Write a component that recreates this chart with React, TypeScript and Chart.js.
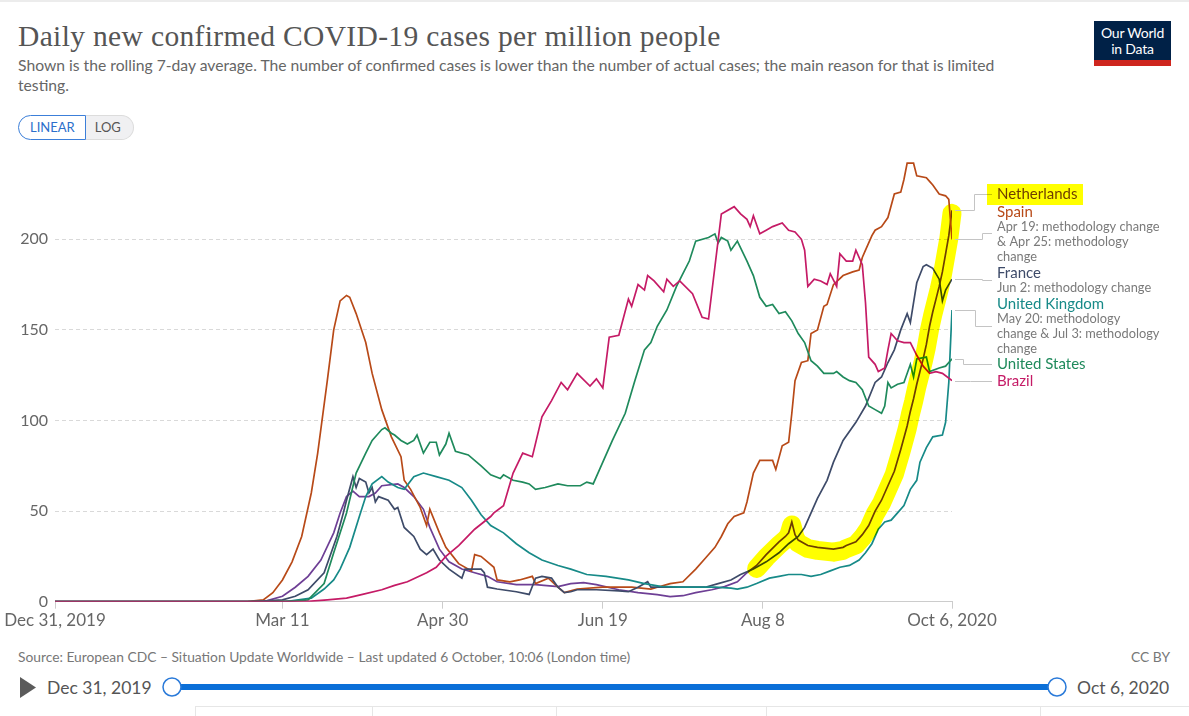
import React, { useEffect, useRef } from "react";
import { Chart, registerables } from "chart.js";

Chart.register(...registerables);

type Pt = [number, number];

// x values are day numbers: day 0 = Dec 31, 2019, day 280 = Oct 6, 2020
const dayTicks = [0, 71, 121, 171, 221, 280];
const dayTickLabels = ["Dec 31, 2019", "Mar 11", "Apr 30", "Jun 19", "Aug 8", "Oct 6, 2020"];
const valueTicks = [0, 50, 100, 150, 200];

// Daily new confirmed cases per million, rolling 7-day average
const netherlands: Pt[] = [
  [0, 0], [62, 0], [66, 0.5], [71, 3], [75, 8], [79, 14], [83, 23], [87, 38], [89, 49], [91, 58],
  [93, 61], [95, 58], [98, 58], [100, 60], [102, 64], [107, 65], [109, 63], [112, 58], [115, 51],
  [117, 41], [120, 29], [123, 22], [127, 18], [131, 16], [135, 14], [138, 11], [144, 9.4], [150, 9.4],
  [157, 8.3], [161, 10], [165, 10.5], [169, 9.4], [176, 6.6], [182, 5], [188, 3.9], [192, 2.8],
  [196, 3.3], [200, 5], [205, 6.6], [209, 8.3], [213, 11], [216, 16], [219, 20], [222, 26], [226, 33],
  [228, 36], [229, 38], [230, 44], [231, 37], [232, 34], [235, 31], [238, 30], [243, 29], [246, 30],
  [247, 31], [250, 33], [252, 37], [254, 42], [256, 50], [258, 56], [260, 64], [262, 72], [264, 84],
  [266, 97], [267, 105], [268, 112], [269, 120], [270, 127], [271, 134], [272, 142], [273, 152],
  [274, 160], [275, 167], [276, 174], [277, 182], [278, 192], [279, 202], [280, 216],
];

const spain: Pt[] = [
  [0, 0], [60, 0], [65, 1], [68, 5], [71, 12], [74, 22], [77, 36], [80, 60], [82, 82], [85, 122],
  [87, 150], [89, 166], [91, 169], [92, 168], [94, 159], [97, 143], [99, 126], [102, 106], [105, 91],
  [108, 80], [109, 67], [111, 62], [114, 52], [116, 42], [117, 51], [120, 38], [122, 30], [126, 21],
  [130, 17], [131, 26], [133, 25], [135, 22], [137, 19], [138, 12], [142, 11], [145, 12], [149, 14],
  [150, 10], [154, 13], [157, 8], [159, 5], [163, 7], [171, 8], [180, 8], [186, 7], [188, 8], [192, 10],
  [196, 11], [200, 18], [203, 24], [206, 30], [208, 36], [210, 43], [212, 47], [215, 49], [216, 55],
  [218, 71], [220, 78], [224, 78], [225, 73], [227, 86], [229, 88], [230, 104], [231, 122], [233, 132],
  [235, 133], [236, 148], [238, 150], [240, 163], [241, 164], [243, 175], [246, 180], [249, 182],
  [251, 183], [252, 190], [253, 194], [255, 202], [256, 205], [258, 207], [260, 212], [262, 225],
  [264, 226], [265, 233], [266, 242], [268, 242], [269, 235], [272, 234], [273, 232], [274, 230],
  [276, 225], [278, 224], [279, 222], [280, 200],
];

const france: Pt[] = [
  [0, 0], [60, 0], [66, 0.5], [71, 1], [75, 3], [79, 6.6], [84, 16], [88, 36], [90, 49], [91, 56],
  [93, 69], [94, 63], [95, 68], [97, 66], [98, 60], [99, 63], [100, 55], [101, 58], [104, 56], [106, 51],
  [107, 52], [109, 41], [112, 36], [114, 29], [116, 26], [118, 29], [120, 23], [123, 18], [127, 13],
  [128, 18], [133, 18], [134, 16], [135, 8], [138, 7], [144, 5.5], [148, 4], [150, 13], [152, 14],
  [155, 13], [157, 8], [159, 5], [161, 5.5], [163, 6.6], [169, 6.6], [176, 6], [179, 5.5], [182, 8],
  [185, 11], [186, 8], [190, 8], [196, 8], [203, 8], [207, 10], [211, 12], [214, 15], [218, 18],
  [222, 22], [226, 27], [229, 32], [232, 36], [234, 41], [236, 49], [238, 57], [241, 67], [243, 77],
  [246, 89], [250, 99], [253, 108], [256, 121], [258, 124], [260, 132], [262, 139], [264, 150],
  [266, 159], [267, 154], [268, 165], [269, 176], [271, 185], [272, 186], [274, 184], [276, 178],
  [277, 166], [278, 172], [280, 178],
];

const unitedKingdom: Pt[] = [
  [0, 0], [72, 0], [76, 1], [80, 2], [84, 7], [87, 12], [89, 18], [92, 30], [95, 47], [97, 58],
  [99, 65], [102, 69], [104, 66], [107, 63], [109, 62], [112, 69], [115, 71], [119, 69], [123, 67],
  [127, 63], [130, 56], [133, 48], [136, 42], [140, 38], [144, 32], [148, 27], [152, 23], [157, 20],
  [161, 18], [166, 15], [172, 14], [179, 12], [184, 10], [189, 8.5], [195, 8], [202, 8], [206, 8],
  [211, 7.5], [213, 7], [216, 8], [219, 10], [223, 13], [226, 14], [229, 15], [233, 15], [236, 14],
  [239, 15], [242, 17], [245, 19], [248, 20], [251, 23], [253, 27], [255, 32], [257, 40], [259, 44],
  [261, 45], [263, 49], [265, 53], [267, 62], [269, 67], [270, 77], [272, 85], [274, 91], [277, 92],
  [278, 99], [279, 121], [280, 161],
];

const unitedStates: Pt[] = [
  [0, 0], [68, 0], [71, 0.3], [75, 0.5], [79, 1], [84, 10], [87, 27], [91, 49], [94, 71], [97, 82],
  [99, 89], [102, 95], [103, 96], [105, 93], [106, 92], [108, 89], [110, 87], [112, 89], [113, 92],
  [115, 82], [117, 88], [119, 88], [120, 81], [122, 87], [123, 93], [125, 83], [129, 81], [133, 75],
  [136, 70], [139, 68], [140, 70], [143, 67], [146, 66], [148, 65], [150, 62], [153, 63], [157, 65],
  [160, 64], [164, 64], [166, 66], [168, 65], [171, 77], [174, 89], [178, 104], [181, 122], [184, 139],
  [186, 143], [188, 152], [191, 161], [194, 174], [196, 181], [198, 188], [200, 199], [204, 201],
  [206, 203], [207, 198], [208, 201], [210, 199], [211, 194], [213, 199], [216, 188], [218, 180],
  [220, 168], [222, 163], [224, 164], [226, 159], [228, 160], [230, 155], [232, 148], [234, 143],
  [236, 133], [238, 130], [240, 126], [243, 126], [244, 127], [246, 124], [248, 122], [250, 121],
  [252, 117], [254, 108], [256, 106], [258, 104], [259, 108], [260, 121], [261, 118], [263, 120],
  [265, 121], [267, 131], [268, 124], [269, 134], [272, 135], [273, 127], [276, 129], [278, 130],
  [279, 132], [280, 134],
];

const brazil: Pt[] = [
  [0, 0], [78, 0], [85, 1], [91, 2], [96, 4], [102, 6.6], [106, 9], [110, 11], [116, 16], [119, 19],
  [122, 25], [126, 31], [131, 40], [136, 47], [137, 49], [140, 53], [143, 71], [146, 82], [149, 80],
  [152, 102], [155, 111], [158, 121], [160, 117], [163, 126], [167, 119], [169, 123], [171, 118],
  [173, 146], [176, 147], [179, 167], [180, 163], [182, 175], [184, 172], [185, 180], [187, 177],
  [190, 171], [191, 178], [193, 174], [195, 177], [199, 170], [202, 157], [204, 156], [206, 185],
  [208, 214], [212, 218], [214, 214], [216, 211], [217, 207], [218, 213], [220, 203], [222, 205],
  [224, 207], [227, 209], [229, 205], [231, 204], [233, 200], [234, 194], [235, 174], [237, 178],
  [239, 177], [241, 175], [242, 181], [244, 174], [245, 192], [247, 188], [249, 188], [250, 194],
  [252, 186], [253, 165], [254, 135], [256, 131], [257, 127], [259, 129], [260, 139], [261, 148],
  [263, 144], [265, 143], [267, 143], [269, 136], [271, 130], [273, 126], [275, 127], [277, 126],
  [280, 122],
];

const countryNames = ["Brazil", "United States", "United Kingdom", "France", "Spain", "Netherlands"];
const countrySeries = [brazil, unitedStates, unitedKingdom, france, spain, netherlands];
const countryColors = ["#C51B66", "#1F8A5C", "#178A88", "#3E4B69", "#B84A18", "#6E3F95"];

// First day covered by the yellow marker stroke
const markerFromDay = 219;

type LabelBlock = {
  series: number;
  elbowX: number;
  anchorY: number;
  lines: { text: string; y: number; note?: boolean }[];
};

const labelBlocks: LabelBlock[] = [
  { series: 5, elbowX: 974, anchorY: 194, lines: [{ text: "Netherlands", y: 194 }] },
  {
    series: 4, elbowX: 982, anchorY: 233,
    lines: [
      { text: "Spain", y: 212 },
      { text: "Apr 19: methodology change", y: 227, note: true },
      { text: "& Apr 25: methodology", y: 242, note: true },
      { text: "change", y: 257, note: true },
    ],
  },
  {
    series: 3, elbowX: 982, anchorY: 280,
    lines: [
      { text: "France", y: 273 },
      { text: "Jun 2: methodology change", y: 288, note: true },
    ],
  },
  {
    series: 2, elbowX: 975, anchorY: 326,
    lines: [
      { text: "United Kingdom", y: 304 },
      { text: "May 20: methodology", y: 319, note: true },
      { text: "change & Jul 3: methodology", y: 334, note: true },
      { text: "change", y: 349, note: true },
    ],
  },
  { series: 1, elbowX: 963, anchorY: 364, lines: [{ text: "United States", y: 364 }] },
  { series: 0, elbowX: 970, anchorY: 381, lines: [{ text: "Brazil", y: 381 }] },
];

const overlayPlugin = {
  id: "owidOverlay",
  afterDatasetsDraw(chart: any) {
    const { ctx, scales } = chart;
    const xs = scales.x;
    const ys = scales.y;
    const pts = netherlands.filter(([d]) => d >= markerFromDay);
    ctx.save();
    ctx.globalCompositeOperation = "multiply";
    ctx.strokeStyle = "#ffff00";
    ctx.lineWidth = 19;
    ctx.lineCap = "round";
    ctx.lineJoin = "round";
    ctx.beginPath();
    pts.forEach(([d, v], i) => {
      const px = xs.getPixelForValue(d);
      const py = ys.getPixelForValue(v) + 3;
      if (i === 0) ctx.moveTo(px, py);
      else ctx.lineTo(px, py);
    });
    ctx.stroke();
    ctx.restore();
  },
  afterDraw(chart: any) {
    const { ctx, scales } = chart;
    const xs = scales.x;
    const ys = scales.y;
    const textX = 997;
    ctx.save();
    labelBlocks.forEach((b) => {
      const data = countrySeries[b.series];
      const last = data[data.length - 1];
      const px = xs.getPixelForValue(last[0]) + 3;
      const py = Math.round(ys.getPixelForValue(last[1])) + 0.5;
      const ay = b.anchorY + 0.5;
      ctx.strokeStyle = "#c4c4c4";
      ctx.lineWidth = 1;
      ctx.beginPath();
      ctx.moveTo(px, py);
      ctx.lineTo(b.elbowX + 0.5, py);
      ctx.lineTo(b.elbowX + 0.5, ay);
      ctx.lineTo(992, ay);
      ctx.stroke();
      b.lines.forEach((l) => {
        ctx.font = l.note ? "12.8px Lato" : "15px Lato";
        ctx.fillStyle = l.note ? "#7a7a7a" : countryColors[b.series];
        ctx.textBaseline = "middle";
        ctx.textAlign = "left";
        ctx.fillText(l.text, textX, l.y);
      });
    });
    // yellow marker over the Netherlands label
    ctx.globalCompositeOperation = "multiply";
    ctx.fillStyle = "#ffff00";
    ctx.fillRect(987, 184, 96, 21);
    ctx.restore();
  },
};

export default function App() {
  const canvasRef = useRef<HTMLCanvasElement>(null);

  useEffect(() => {
    const canvas = canvasRef.current;
    if (!canvas) return;
    const chart = new Chart(canvas, {
      type: "line",
      data: {
        datasets: countrySeries.map((s, i) => ({
          label: countryNames[i],
          data: s.map(([x, y]) => ({ x, y })),
          borderColor: countryColors[i],
          backgroundColor: countryColors[i],
          borderWidth: 1.7,
          pointRadius: 0,
          tension: 0,
          fill: false,
        })),
      },
      options: {
        animation: false,
        responsive: false,
        maintainAspectRatio: false,
        layout: { padding: { top: 148.7, bottom: 74.3, left: 0, right: 237 } },
        plugins: { legend: { display: false }, tooltip: { enabled: false }, title: { display: false } },
        scales: {
          x: {
            type: "linear",
            min: 0,
            max: 280,
            afterBuildTicks: (scale: any) => {
              scale.ticks = dayTicks.map((value) => ({ value }));
            },
            afterFit: (scale: any) => {
              scale.height = 40;
            },
            ticks: {
              autoSkip: false,
              maxRotation: 0,
              padding: 2,
              color: "#666",
              font: { family: "Lato", size: 17 },
              callback: (v: any) => {
                const i = dayTicks.indexOf(Number(v));
                return i >= 0 ? dayTickLabels[i] : "";
              },
            },
            grid: { drawOnChartArea: false, drawTicks: true, tickLength: 7, color: "#cccccc" },
            border: { display: true, color: "#cccccc", width: 1 },
          },
          y: {
            type: "linear",
            min: 0,
            max: 250,
            afterBuildTicks: (scale: any) => {
              scale.ticks = valueTicks.map((value) => ({ value }));
            },
            afterFit: (scale: any) => {
              scale.width = 55;
            },
            ticks: { padding: 7, color: "#666", font: { family: "Lato", size: 16 } },
            grid: {
              drawTicks: false,
              color: (c: any) => (c.tick && c.tick.value === 0 ? "rgba(0,0,0,0)" : "#d9d9d9"),
            },
            border: { display: false, dash: [4, 3] },
          },
        },
      },
      plugins: [overlayPlugin],
    });
    return () => chart.destroy();
  }, []);

  const abs = (s: React.CSSProperties): React.CSSProperties => ({ position: "absolute", ...s });

  return (
    <div
      style={{
        position: "absolute",
        left: 0,
        top: 0,
        width: 1189,
        height: 716,
        overflow: "hidden",
        background: "#fff",
        fontFamily: "Lato, 'Noto Sans', sans-serif",
      }}
    >
      <div style={abs({ left: 0, top: 0, width: 1189, height: 2, background: "#ececec" })} />
      <div
        style={abs({
          left: 18,
          top: 21,
          fontFamily: "'Liberation Serif', 'DejaVu Serif', serif",
          fontSize: 29.5,
          lineHeight: "30px",
          letterSpacing: 0.35,
          color: "#555",
          whiteSpace: "nowrap",
        })}
      >
        Daily new confirmed COVID-19 cases per million people
      </div>
      <div style={abs({ left: 18, top: 55, fontSize: 15.7, lineHeight: "20px", color: "#666", whiteSpace: "nowrap" })}>
        Shown is the rolling 7-day average. The number of confirmed cases is lower than the number of actual cases; the main reason for that is limited
        <br />
        testing.
      </div>

      <div style={abs({ left: 18, top: 115, height: 25, display: "flex", fontSize: 13 })}>
        <div
          style={{
            height: 23,
            lineHeight: "23px",
            padding: "0 10px 0 11px",
            border: "1px solid #3C7FD9",
            borderRadius: "13px 0 0 13px",
            color: "#2C6FCB",
          }}
        >
          LINEAR
        </div>
        <div
          style={{
            height: 23,
            lineHeight: "23px",
            padding: "0 12px 0 9px",
            border: "1px solid #dcdcdc",
            borderLeft: "none",
            borderRadius: "0 13px 13px 0",
            background: "#f0f0f2",
            color: "#555",
          }}
        >
          LOG
        </div>
      </div>

      <div style={abs({ left: 1094, top: 21, width: 77, height: 39, background: "#002147" })}>
        <div style={{ color: "#fff", fontSize: 14, lineHeight: "16px", textAlign: "center", paddingTop: 4, letterSpacing: -0.2 }}>
          Our World
          <br />
          in Data
        </div>
      </div>
      <div style={abs({ left: 1094, top: 60, width: 77, height: 6, background: "#CE261E" })} />

      <div style={abs({ left: 18, top: 648, fontSize: 13.8, lineHeight: "18px", color: "#777", whiteSpace: "nowrap" })}>
        Source: European CDC – Situation Update Worldwide – Last updated 6 October, 10:06 (London time)
      </div>
      <div style={abs({ left: 1120, top: 648, width: 50, textAlign: "right", fontSize: 13.8, lineHeight: "18px", color: "#777" })}>
        CC BY
      </div>

      <svg width={1189} height={716} style={abs({ left: 0, top: 0 })}>
        <polygon points="20,677 20,698 36,687.5" fill="#5b5b5b" />
        <rect x={172} y={684} width={885} height={6} fill="#0B6FD8" />
        <circle cx={172} cy={687} r={9} fill="#fff" stroke="#2A7AD9" strokeWidth={1.5} />
        <circle cx={1057} cy={687} r={9} fill="#fff" stroke="#2A7AD9" strokeWidth={1.5} />
        <line x1={195} y1={706.5} x2={1189} y2={706.5} stroke="#e6e6e6" />
        {[195.5, 372.5, 556.5, 766.5, 1040.5].map((x) => (
          <line key={x} x1={x} y1={706} x2={x} y2={716} stroke="#e6e6e6" />
        ))}
      </svg>
      <div style={abs({ left: 47, top: 677, fontSize: 17.5, lineHeight: "22px", color: "#555", whiteSpace: "nowrap" })}>
        Dec 31, 2019
      </div>
      <div style={abs({ left: 1077, top: 677, fontSize: 17.5, lineHeight: "22px", color: "#555", whiteSpace: "nowrap" })}>
        Oct 6, 2020
      </div>

      <canvas ref={canvasRef} width={1189} height={716} style={abs({ left: 0, top: 0, width: 1189, height: 716 })} />
    </div>
  );
}
